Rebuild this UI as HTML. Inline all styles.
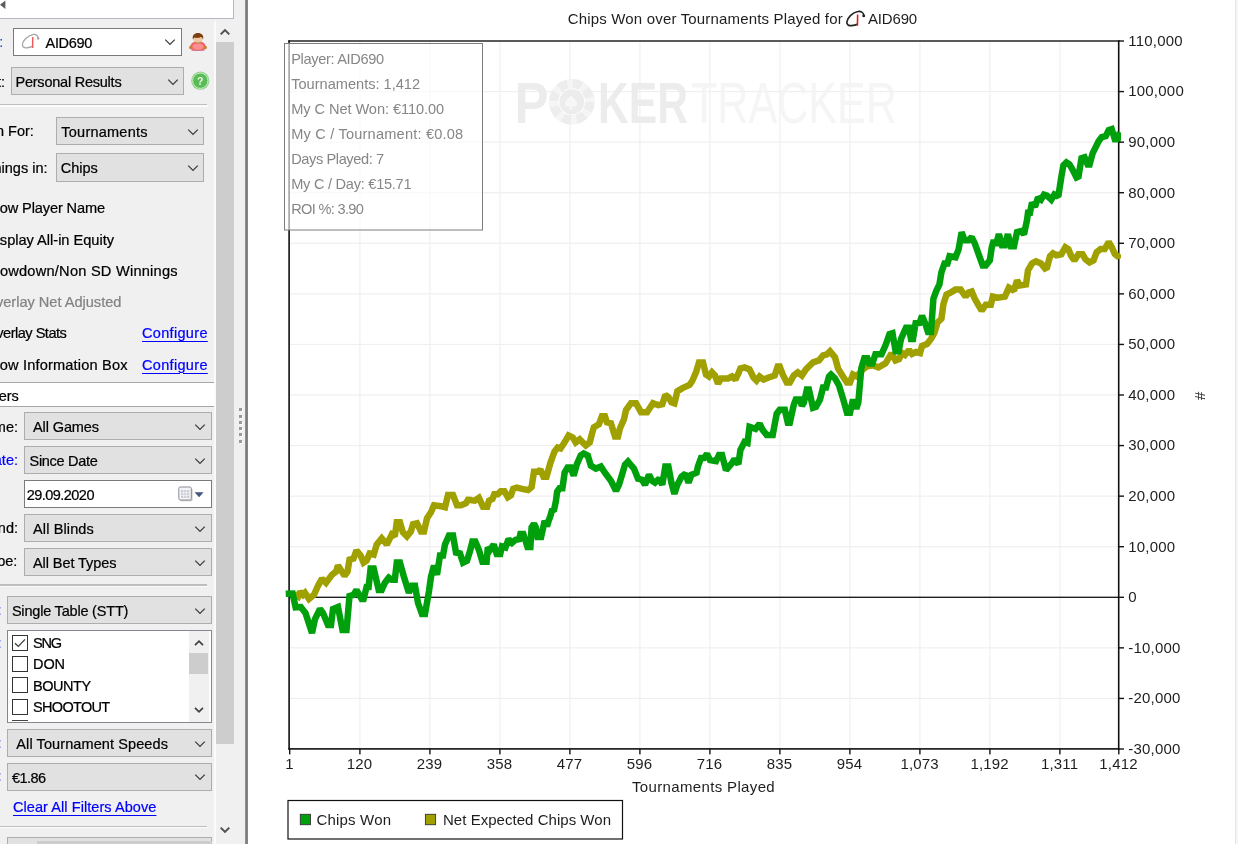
<!DOCTYPE html>
<html><head><meta charset="utf-8"><title>Chips Won over Tournaments Played</title>
<style>
html,body{margin:0;padding:0}
body{width:1238px;height:844px;overflow:hidden;position:relative;background:#fff;font-family:"Liberation Sans",sans-serif}
#panel{position:absolute;left:0;top:0;width:245px;height:844px;background:#f0f0f0;overflow:hidden}
#split{position:absolute;left:245px;top:0;width:3px;height:844px;background:linear-gradient(90deg,#9a9a9a,#7c7c7c 50%,#8c8c8c)}
.t{position:absolute;white-space:pre;-webkit-text-stroke:0.22px currentColor}
.a{position:absolute;overflow:visible}
.cb{position:absolute;background:#e1e1e1;border:1px solid #adadad}
.cb.w{background:#fff;border-color:#7a7a7a}
#chart{position:absolute;left:248px;top:0}
</style></head>
<body>
<div id="panel">
<div style="position:absolute;left:-3px;top:-3px;width:235.3px;height:20.4px;background:#fff;border:1.7px solid #b4b8c5"></div>
<svg class="a" style="left:0;top:0" width="8" height="12"><path d="M5.4 0.5 L0 4.8 L5.4 9 Z" fill="#5c5c5c"/></svg>
<div style="position:absolute;left:214px;top:21px;width:1.6px;height:823px;background:#fbfbfb"></div>
<div style="position:absolute;left:215.7px;top:41.8px;width:18.4px;height:702.2px;background:#cdcdcd"></div>
<svg class="a" style="left:217px;top:24px" width="16" height="16" viewBox="-8 -8 16 16"><path d="M-4.3 2.4 L0 -1.9 L4.3 2.4" fill="none" stroke="#505050" stroke-width="2"/></svg>
<svg class="a" style="left:217px;top:822px" width="16" height="16" viewBox="-8 -8 16 16"><path d="M-4.3 -2.4 L0 1.9 L4.3 -2.4" fill="none" stroke="#505050" stroke-width="2"/></svg>
<div class="t" style="right:241.70px;top:32.20px;height:20px;line-height:20px;font-size:14.5px;color:#2257c5;">Player:</div>
<div class="cb w" style="left:13.0px;top:28.0px;width:167.0px;height:25.5px"></div>
<div class="t" style="left:45.60px;top:32.65px;height:20px;line-height:20px;font-size:14.5px;color:#000;letter-spacing:-0.344px;">AID690</div>
<svg class="a" style="left:162px;top:34.25px" width="16" height="16" viewBox="-8 -8 16 16"><path d="M-4.75 -2.40 L0 2.40 L4.75 -2.40" fill="none" stroke="#3c3c3c" stroke-width="1.3"/></svg>
<svg class="a" style="left:21.7px;top:33.6px" width="20" height="16" viewBox="0 0 20 16"><path d="M16.3 4.2 C16 1.4 13.5 0 10.8 0.6 C5.5 1.6 0.8 6.5 0.4 10.4 C0.2 13 2.3 14 4.8 13.8 C6.8 13.6 8.8 13.2 10.2 12.4" fill="none" stroke="#a6a6a6" stroke-width="1.3"/><circle cx="16.2" cy="4.6" r="1.15" fill="#9a9a9a"/><path d="M10.8 3.1 L10.6 13.9" stroke="#f05a5a" stroke-width="1.45" fill="none"/></svg>
<svg class="a" style="left:187px;top:32px" width="22" height="22" viewBox="0 0 22 22"><path d="M2.8 16.6 C2.8 11.6 6.4 9.2 11 9.2 C15.6 9.2 19.2 11.6 19.2 16.6 C17 19.3 5 19.3 2.8 16.6 Z" fill="#f26466"/><ellipse cx="11" cy="14.6" rx="5.6" ry="3.4" fill="#fb8f90"/><path d="M4.6 18.3 H17.4" stroke="#c86a8a" stroke-width="0.9"/><circle cx="3.7" cy="15.4" r="1.7" fill="#c9822e"/><circle cx="18.3" cy="15.4" r="1.7" fill="#c9822e"/><ellipse cx="11" cy="6.4" rx="4.7" ry="4.6" fill="#efc9a2"/><path d="M6 7.6 C4.8 3 7.6 0.9 11 0.9 C14.4 0.9 17.2 3 16 7.6 C15.6 6 15 5.2 13.6 5 C12.6 6 8.6 6.2 7.4 5.4 C6.6 6 6.2 6.6 6 7.6 Z" fill="#7d3f12"/><path d="M8.2 10.2 C9.6 11.2 12.4 11.2 13.8 10.2" stroke="#b07040" stroke-width="0.7" fill="none"/></svg>
<div class="t" style="right:240.00px;top:71.50px;height:20px;line-height:20px;font-size:14.5px;color:#000;">Report:</div>
<div class="cb" style="left:10.5px;top:67.0px;width:171.5px;height:26.0px"></div>
<div class="t" style="left:15.50px;top:71.90px;height:20px;line-height:20px;font-size:14.5px;color:#000;letter-spacing:-0.232px;">Personal Results</div>
<svg class="a" style="left:164.5px;top:73.5px" width="16" height="16" viewBox="-8 -8 16 16"><path d="M-4.75 -2.40 L0 2.40 L4.75 -2.40" fill="none" stroke="#3c3c3c" stroke-width="1.3"/></svg>
<svg class="a" style="left:190px;top:71px" width="20" height="20" viewBox="0 0 20 20"><circle cx="10.3" cy="9.7" r="9.1" fill="#8ed08a"/><circle cx="10.3" cy="9.7" r="7.7" fill="#5bbb57" stroke="#d4efd0" stroke-width="0.9"/><text x="10.3" y="13.6" text-anchor="middle" font-family="Liberation Sans, sans-serif" font-weight="700" font-size="10.5" fill="#eaf7e6">?</text></svg>
<div style="position:absolute;left:0;top:105.4px;width:208px;height:1.2px;background:#fcfcfc"></div><div style="position:absolute;left:0;top:103.9px;width:207px;height:1.5px;background:#bebebe"></div>
<div class="t" style="right:211.20px;top:120.80px;height:20px;line-height:20px;font-size:14.5px;color:#000;">Graph For:</div>
<div class="cb" style="left:55.5px;top:117.0px;width:146.5px;height:26.0px"></div>
<div class="t" style="left:61.30px;top:121.90px;height:20px;line-height:20px;font-size:14.5px;color:#000;letter-spacing:0.234px;">Tournaments</div>
<svg class="a" style="left:184.5px;top:123.5px" width="16" height="16" viewBox="-8 -8 16 16"><path d="M-4.75 -2.40 L0 2.40 L4.75 -2.40" fill="none" stroke="#3c3c3c" stroke-width="1.3"/></svg>
<div class="t" style="right:197.50px;top:157.50px;height:20px;line-height:20px;font-size:14.5px;color:#000;">Winnings in:</div>
<div class="cb" style="left:55.5px;top:153.0px;width:146.5px;height:26.5px"></div>
<div class="t" style="left:60.80px;top:158.15px;height:20px;line-height:20px;font-size:14.5px;color:#000;letter-spacing:-0.054px;">Chips</div>
<svg class="a" style="left:184.5px;top:159.75px" width="16" height="16" viewBox="-8 -8 16 16"><path d="M-4.75 -2.40 L0 2.40 L4.75 -2.40" fill="none" stroke="#3c3c3c" stroke-width="1.3"/></svg>
<div class="t" style="right:140.00px;top:198.30px;height:20px;line-height:20px;font-size:14.6px;color:#000;letter-spacing:-0.129px;">Show Player Name</div>
<div class="t" style="right:131.00px;top:229.60px;height:20px;line-height:20px;font-size:14.6px;color:#000;letter-spacing:-0.012px;">Display All-in Equity</div>
<div class="t" style="right:67.20px;top:260.60px;height:20px;line-height:20px;font-size:14.6px;color:#000;letter-spacing:0.234px;">Showdown/Non SD Winnings</div>
<div class="t" style="right:123.60px;top:291.90px;height:20px;line-height:20px;font-size:14.6px;color:#838383;letter-spacing:-0.016px;">Overlay Net Adjusted</div>
<div class="t" style="right:178.70px;top:323.20px;height:20px;line-height:20px;font-size:14.6px;color:#000;letter-spacing:-0.516px;">Overlay Stats</div>
<div class="t" style="left:142.00px;top:323.20px;height:20px;line-height:20px;font-size:14.5px;color:#0000ff;text-decoration:underline;text-underline-offset:2.8px;text-decoration-thickness:1.1px;letter-spacing:0.325px;">Configure</div>
<div class="t" style="right:117.30px;top:354.50px;height:20px;line-height:20px;font-size:14.6px;color:#000;letter-spacing:0.168px;">Show Information Box</div>
<div class="t" style="left:142.00px;top:354.50px;height:20px;line-height:20px;font-size:14.5px;color:#0000ff;text-decoration:underline;text-underline-offset:2.8px;text-decoration-thickness:1.1px;letter-spacing:0.325px;">Configure</div>
<div style="position:absolute;left:-2px;top:382px;width:216px;height:22.5px;background:#fff;border-top:1px solid #a6a6a8;border-bottom:1px solid #a6a6a8"></div>
<div class="t" style="right:226.20px;top:386.30px;height:20px;line-height:20px;font-size:14.5px;color:#000;">Filters</div>
<div class="t" style="right:227.00px;top:416.50px;height:20px;line-height:20px;font-size:14.5px;color:#000;">Game:</div>
<div class="cb" style="left:24.0px;top:412.0px;width:186.0px;height:26.0px"></div>
<div class="t" style="left:33.00px;top:416.90px;height:20px;line-height:20px;font-size:14.5px;color:#000;letter-spacing:-0.109px;">All Games</div>
<svg class="a" style="left:192px;top:418.5px" width="16" height="16" viewBox="-8 -8 16 16"><path d="M-4.75 -2.40 L0 2.40 L4.75 -2.40" fill="none" stroke="#3c3c3c" stroke-width="1.3"/></svg>
<div class="t" style="right:227.00px;top:450.30px;height:20px;line-height:20px;font-size:14.5px;color:#0000ff;">Date:</div>
<div class="cb" style="left:24.0px;top:446.0px;width:186.0px;height:26.0px"></div>
<div class="t" style="left:29.50px;top:450.90px;height:20px;line-height:20px;font-size:14.5px;color:#000;letter-spacing:-0.283px;">Since Date</div>
<svg class="a" style="left:192px;top:452.5px" width="16" height="16" viewBox="-8 -8 16 16"><path d="M-4.75 -2.40 L0 2.40 L4.75 -2.40" fill="none" stroke="#3c3c3c" stroke-width="1.3"/></svg>
<div class="cb w" style="left:24.0px;top:480.0px;width:186.0px;height:26.0px"></div>
<div class="t" style="left:26.80px;top:484.90px;height:20px;line-height:20px;font-size:14.5px;color:#000;letter-spacing:-0.547px;">29.09.2020</div>
<svg class="a" style="left:177.8px;top:486px" width="27" height="17" viewBox="0 0 27 17"><rect x="2" y="2.2" width="12.5" height="13" rx="1.5" fill="#c8c4c0"/><rect x="0.8" y="1" width="12.5" height="13" rx="1.5" fill="#f4f4f6" stroke="#8c8c96" stroke-width="1"/><rect x="3" y="4" width="8.2" height="8" fill="#c9ccd8"/><path d="M3 6.7H11.2M3 9.4H11.2M5.7 4V12M8.4 4V12" stroke="#f4f4f6" stroke-width="0.8"/><path d="M16.6 6.2 H25.6 L21.1 11.2 Z" fill="#43567e"/></svg>
<div class="t" style="right:227.00px;top:517.50px;height:20px;line-height:20px;font-size:14.5px;color:#000;">Blind:</div>
<div class="cb" style="left:24.0px;top:514.0px;width:186.0px;height:26.0px"></div>
<div class="t" style="left:33.00px;top:518.90px;height:20px;line-height:20px;font-size:14.5px;color:#000;letter-spacing:0.126px;">All Blinds</div>
<svg class="a" style="left:192px;top:520.5px" width="16" height="16" viewBox="-8 -8 16 16"><path d="M-4.75 -2.40 L0 2.40 L4.75 -2.40" fill="none" stroke="#3c3c3c" stroke-width="1.3"/></svg>
<div class="t" style="right:227.70px;top:551.30px;height:20px;line-height:20px;font-size:14.5px;color:#000;">Type:</div>
<div class="cb" style="left:24.0px;top:548.0px;width:186.0px;height:26.0px"></div>
<div class="t" style="left:33.00px;top:552.90px;height:20px;line-height:20px;font-size:14.5px;color:#000;letter-spacing:-0.074px;">All Bet Types</div>
<svg class="a" style="left:192px;top:554.5px" width="16" height="16" viewBox="-8 -8 16 16"><path d="M-4.75 -2.40 L0 2.40 L4.75 -2.40" fill="none" stroke="#3c3c3c" stroke-width="1.3"/></svg>
<div style="position:absolute;left:0;top:585.9px;width:207.5px;height:1.2px;background:#fcfcfc"></div><div style="position:absolute;left:0;top:584.4px;width:206.5px;height:1.5px;background:#bebebe"></div>
<div class="t" style="right:243.40px;top:600.00px;height:20px;line-height:20px;font-size:14.5px;color:#2a3cff;">Type:</div>
<div class="cb" style="left:7.0px;top:596.0px;width:203.0px;height:26.0px"></div>
<div class="t" style="left:11.90px;top:600.90px;height:20px;line-height:20px;font-size:14.5px;color:#000;letter-spacing:-0.195px;">Single Table (STT)</div>
<svg class="a" style="left:192px;top:602.5px" width="16" height="16" viewBox="-8 -8 16 16"><path d="M-4.75 -2.40 L0 2.40 L4.75 -2.40" fill="none" stroke="#3c3c3c" stroke-width="1.3"/></svg>
<div class="t" style="right:243.40px;top:632.50px;height:20px;line-height:20px;font-size:14.5px;color:#2a3cff;">Flags:</div>
<div style="position:absolute;left:7px;top:630px;width:203px;height:91px;background:#fff;border:1px solid #828790;overflow:hidden"></div>
<div style="position:absolute;left:12px;top:634.6px;width:14px;height:14px;background:#fff;border:1px solid #333"></div>
<svg class="a" style="left:12px;top:634.6px" width="16" height="16"><path d="M3 8.2 L6.3 11.4 L13 4.4" fill="none" stroke="#3a3a3a" stroke-width="1.3"/></svg>
<div class="t" style="left:33.00px;top:632.90px;height:20px;line-height:20px;font-size:14.5px;color:#000;letter-spacing:-1.141px;">SNG</div>
<div style="position:absolute;left:12px;top:656.0px;width:14px;height:14px;background:#fff;border:1px solid #333"></div>
<div class="t" style="left:33.00px;top:654.25px;height:20px;line-height:20px;font-size:14.5px;color:#000;letter-spacing:-0.074px;">DON</div>
<div style="position:absolute;left:12px;top:677.3px;width:14px;height:14px;background:#fff;border:1px solid #333"></div>
<div class="t" style="left:33.00px;top:675.60px;height:20px;line-height:20px;font-size:14.5px;color:#000;letter-spacing:-0.454px;">BOUNTY</div>
<div style="position:absolute;left:12px;top:698.7px;width:14px;height:14px;background:#fff;border:1px solid #333"></div>
<div class="t" style="left:33.00px;top:696.95px;height:20px;line-height:20px;font-size:14.5px;color:#000;letter-spacing:-0.675px;">SHOOTOUT</div>
<div style="position:absolute;left:12px;top:720px;width:16px;height:1.2px;background:#444;border:0"></div>
<div style="position:absolute;left:189px;top:631px;width:20.4px;height:91px;background:#f0f0f0"></div>
<div style="position:absolute;left:189.3px;top:653.2px;width:19px;height:21px;background:#cdcdcd"></div>
<svg class="a" style="left:191px;top:635px" width="16" height="16" viewBox="-8 -8 16 16"><path d="M-4 2.2 L0 -1.8 L4 2.2" fill="none" stroke="#404040" stroke-width="1.7"/></svg>
<svg class="a" style="left:191px;top:702px" width="16" height="16" viewBox="-8 -8 16 16"><path d="M-4 -2.2 L0 1.8 L4 -2.2" fill="none" stroke="#404040" stroke-width="1.7"/></svg>
<div class="t" style="right:243.40px;top:733.00px;height:20px;line-height:20px;font-size:14.5px;color:#2a3cff;">Speed:</div>
<div class="cb" style="left:7.0px;top:729.0px;width:203.0px;height:26.0px"></div>
<div class="t" style="left:16.30px;top:733.90px;height:20px;line-height:20px;font-size:14.5px;color:#000;letter-spacing:0.097px;">All Tournament Speeds</div>
<svg class="a" style="left:192px;top:735.5px" width="16" height="16" viewBox="-8 -8 16 16"><path d="M-4.75 -2.40 L0 2.40 L4.75 -2.40" fill="none" stroke="#3c3c3c" stroke-width="1.3"/></svg>
<div class="t" style="right:243.40px;top:766.20px;height:20px;line-height:20px;font-size:14.5px;color:#2a3cff;">Buy-in:</div>
<div class="cb" style="left:7.0px;top:763.0px;width:203.0px;height:25.5px"></div>
<div class="t" style="left:11.90px;top:767.65px;height:20px;line-height:20px;font-size:14.5px;color:#000;letter-spacing:-0.557px;">€1.86</div>
<svg class="a" style="left:192px;top:769.25px" width="16" height="16" viewBox="-8 -8 16 16"><path d="M-4.75 -2.40 L0 2.40 L4.75 -2.40" fill="none" stroke="#3c3c3c" stroke-width="1.3"/></svg>
<div class="t" style="left:13.00px;top:796.60px;height:20px;line-height:20px;font-size:14.5px;color:#0000ff;text-decoration:underline;text-underline-offset:2.8px;text-decoration-thickness:1.1px;letter-spacing:0.068px;">Clear All Filters Above</div>
<div style="position:absolute;left:0;top:827.1px;width:207.5px;height:1.2px;background:#fcfcfc"></div><div style="position:absolute;left:0;top:825.6px;width:206.5px;height:1.5px;background:#bebebe"></div>
<div class="cb" style="left:7px;top:837px;width:203px;height:20px"></div>
<div style="position:absolute;left:37px;top:841px;width:175px;height:3px;background:#cdcdcd"></div>
<div style="position:absolute;left:239px;top:408.30px;width:3px;height:3px;background:#9a9a9a;box-shadow:1px 1px 0 #fff"></div>
<div style="position:absolute;left:239px;top:414.55px;width:3px;height:3px;background:#9a9a9a;box-shadow:1px 1px 0 #fff"></div>
<div style="position:absolute;left:239px;top:420.80px;width:3px;height:3px;background:#9a9a9a;box-shadow:1px 1px 0 #fff"></div>
<div style="position:absolute;left:239px;top:427.05px;width:3px;height:3px;background:#9a9a9a;box-shadow:1px 1px 0 #fff"></div>
<div style="position:absolute;left:239px;top:433.30px;width:3px;height:3px;background:#9a9a9a;box-shadow:1px 1px 0 #fff"></div>
<div style="position:absolute;left:239px;top:439.55px;width:3px;height:3px;background:#9a9a9a;box-shadow:1px 1px 0 #fff"></div>
</div>
<div id="split"></div>
<svg id="chart" width="990" height="844" viewBox="248 0 990 844">
<rect x="248" y="0" width="990" height="844" fill="#ffffff"/>
<rect x="359.3" y="41.0" width="1.2" height="708.0" fill="#efefef"/>
<rect x="429.3" y="41.0" width="1.2" height="708.0" fill="#efefef"/>
<rect x="499.3" y="41.0" width="1.2" height="708.0" fill="#efefef"/>
<rect x="569.3" y="41.0" width="1.2" height="708.0" fill="#efefef"/>
<rect x="639.3" y="41.0" width="1.2" height="708.0" fill="#efefef"/>
<rect x="709.3" y="41.0" width="1.2" height="708.0" fill="#efefef"/>
<rect x="779.3" y="41.0" width="1.2" height="708.0" fill="#efefef"/>
<rect x="849.3" y="41.0" width="1.2" height="708.0" fill="#efefef"/>
<rect x="919.3" y="41.0" width="1.2" height="708.0" fill="#efefef"/>
<rect x="989.3" y="41.0" width="1.2" height="708.0" fill="#efefef"/>
<rect x="1059.3" y="41.0" width="1.2" height="708.0" fill="#efefef"/>
<rect x="289.0" y="90.97" width="829.8" height="1.2" fill="#efefef"/>
<rect x="289.0" y="141.54" width="829.8" height="1.2" fill="#efefef"/>
<rect x="289.0" y="192.11" width="829.8" height="1.2" fill="#efefef"/>
<rect x="289.0" y="242.69" width="829.8" height="1.2" fill="#efefef"/>
<rect x="289.0" y="293.26" width="829.8" height="1.2" fill="#efefef"/>
<rect x="289.0" y="343.83" width="829.8" height="1.2" fill="#efefef"/>
<rect x="289.0" y="394.40" width="829.8" height="1.2" fill="#efefef"/>
<rect x="289.0" y="444.97" width="829.8" height="1.2" fill="#efefef"/>
<rect x="289.0" y="495.54" width="829.8" height="1.2" fill="#efefef"/>
<rect x="289.0" y="546.11" width="829.8" height="1.2" fill="#efefef"/>
<rect x="289.0" y="647.26" width="829.8" height="1.2" fill="#efefef"/>
<rect x="289.0" y="697.83" width="829.8" height="1.2" fill="#efefef"/>
<g opacity="0.9"><text x="514.5" y="123" font-family="Liberation Sans, sans-serif" font-weight="700" font-size="57" fill="#ebebeb" textLength="34" lengthAdjust="spacingAndGlyphs">P</text><circle cx="571.8" cy="101.8" r="18.2" fill="none" stroke="#ececec" stroke-width="9.5" stroke-dasharray="9.5 4.8"/><circle cx="571.8" cy="101.8" r="18.2" fill="none" stroke="#f5f5f5" stroke-width="9.5" stroke-dasharray="4.8 9.5" stroke-dashoffset="4.8"/><circle cx="571.8" cy="101.8" r="12.6" fill="#ebebeb"/><path d="M571 95.5 C575 99.5 577 101.5 577 104 C577 106.6 573.6 107.4 571.8 105.6 L573 109.5 H569 L570.2 105.6 C568.4 107.4 565 106.6 565 104 C565 101.5 567 99.5 571 95.5 Z" fill="#f7f7f7"/><text x="598" y="123" font-family="Liberation Sans, sans-serif" font-weight="700" font-size="57" fill="#ebebeb" textLength="90" lengthAdjust="spacingAndGlyphs">KER</text><text x="691" y="123" font-family="Liberation Sans, sans-serif" font-size="57" fill="#f4f4f4" textLength="206" lengthAdjust="spacingAndGlyphs">TRACKER</text></g>
<rect x="289.0" y="596.64" width="829.8" height="1.3" fill="#111"/>
<rect x="288.3" y="40.3" width="1.6" height="709.4" fill="#101010"/>
<rect x="1117.9" y="40.3" width="1.6" height="709.4" fill="#101010"/>
<rect x="288.3" y="40.3" width="831.2" height="1.4" fill="#141414"/>
<rect x="288.3" y="748.1" width="831.2" height="1.6" fill="#101010"/>
<clipPath id="pc"><rect x="285" y="42" width="835.9" height="706"/></clipPath>
<polyline clip-path="url(#pc)" points="293.0,594.5 298.0,596.8 300.0,591.8 303.0,594.8 305.0,592.8 309.0,598.9 314.0,594.8 318.0,585.8 322.0,578.7 326.0,582.7 332.0,574.7 336.0,571.7 338.0,565.6 344.5,575.7 347.5,571.7 349.5,559.6 353.5,558.6 356.5,550.5 360.6,555.5 363.6,562.6 366.6,560.6 369.6,553.5 373.7,554.5 376.7,544.5 381.7,538.4 386.8,544.5 391.8,534.4 394.8,536.4 396.8,522.3 399.9,522.3 402.9,532.4 406.9,536.4 410.9,531.4 413.0,524.3 417.0,523.3 421.0,531.4 424.0,531.4 427.0,518.3 431.0,512.2 434.0,505.2 441.0,506.2 445.0,507.2 448.0,495.1 453.0,495.1 457.0,505.2 461.0,505.2 466.0,503.2 469.0,498.1 470.0,500.1 474.7,500.7 478.9,497.8 483.0,506.7 487.2,506.7 489.0,500.7 492.5,499.0 494.3,494.2 497.8,494.2 500.8,491.3 504.4,491.3 507.9,497.2 510.9,495.4 513.2,488.9 516.8,487.7 522.1,488.9 528.1,490.1 531.6,487.1 534.0,471.7 538.0,471.7 540.4,469.6 543.5,476.7 546.5,476.7 550.5,462.6 554.5,451.5 557.6,447.5 560.6,448.5 564.6,442.4 568.6,435.4 572.7,437.4 575.7,442.4 579.7,439.4 585.8,445.5 589.8,442.4 591.8,434.4 593.8,427.3 598.9,424.3 601.9,416.3 604.9,416.3 606.9,422.3 610.9,423.3 615.0,436.4 618.0,436.4 620.0,428.3 624.0,419.3 626.0,410.2 631.0,403.2 636.0,403.2 641.0,412.2 647.0,412.2 653.0,403.2 658.3,405.2 662.3,404.2 665.3,395.1 668.4,397.1 671.4,402.2 674.4,403.2 677.4,391.1 682.5,388.1 689.5,385.0 692.0,381.5 696.0,372.4 699.0,362.4 703.0,362.4 706.0,374.5 709.0,376.5 712.0,372.4 715.0,375.5 718.0,383.5 721.0,378.5 728.0,378.5 732.0,376.5 735.4,379.5 738.4,373.5 740.4,368.4 744.5,367.4 749.5,369.4 753.5,377.5 756.5,380.5 759.6,376.5 763.6,379.5 768.6,377.5 774.7,375.5 777.7,366.4 779.7,366.4 782.7,374.5 786.8,382.5 789.8,382.5 793.8,375.5 797.8,372.4 801.9,375.5 805.9,369.4 813.0,362.4 819.0,360.4 823.0,355.3 827.0,354.3 830.0,351.3 835.0,357.3 838.0,368.4 843.0,376.5 847.0,382.5 850.0,382.5 853.0,374.5 857.0,376.5 862.0,370.0 867.0,366.4 873.4,365.4 878.4,367.4 885.5,363.4 891.5,353.3 895.5,360.4 899.0,359.1 902.0,353.0 905.0,355.0 909.0,350.0 912.0,354.0 916.0,352.0 920.0,353.0 922.0,346.0 927.0,344.0 931.0,338.9 934.4,332.9 937.4,322.8 941.4,318.8 943.5,303.7 946.5,294.6 950.5,292.6 955.5,289.6 960.6,289.6 965.6,296.6 968.6,292.6 971.7,291.6 974.7,298.6 978.7,305.7 981.7,310.7 985.8,304.7 990.8,304.7 992.8,296.6 997.8,297.6 1004.9,296.6 1008.9,287.6 1014.0,290.6 1017.0,280.5 1020.0,285.5 1026.0,284.5 1028.0,270.4 1032.0,263.4 1036.0,261.4 1041.0,263.4 1045.0,268.4 1047.0,267.4 1050.0,256.3 1053.0,253.3 1056.3,255.3 1061.3,254.3 1065.3,247.3 1068.4,249.3 1071.4,256.3 1074.4,260.4 1078.4,254.3 1082.5,254.3 1085.5,259.4 1089.5,262.4 1093.5,260.4 1096.6,252.3 1100.7,249.0 1104.7,249.0 1108.7,242.0 1111.7,247.0 1114.8,254.0 1118.8,257.1 1119.8,254.0" fill="none" stroke="#a0a000" stroke-width="6.5" stroke-linejoin="miter" stroke-miterlimit="1.6" stroke-linecap="butt"/>
<polyline clip-path="url(#pc)" points="285.7,593.7 292.6,593.5 295.6,607.3 300.8,607.0 305.5,613.0 312.0,633.0 315.0,619.0 320.0,609.0 323.0,613.0 328.0,625.0 331.0,625.0 333.0,609.0 338.0,607.0 342.5,630.0 346.5,630.0 349.5,596.0 353.5,595.0 356.5,590.0 361.6,599.0 363.6,599.0 366.6,587.0 368.6,587.0 370.6,568.6 373.7,568.6 378.7,590.0 381.7,590.0 384.8,583.0 388.8,577.7 391.8,579.7 394.8,579.7 396.8,562.6 399.9,562.6 403.9,576.7 408.9,592.8 412.0,585.8 415.0,585.8 418.0,603.0 422.0,614.0 425.0,614.0 429.0,591.0 431.0,576.7 434.0,565.6 437.0,574.7 440.0,555.5 443.0,555.5 445.0,544.5 449.0,535.4 453.0,535.4 456.0,552.5 460.0,553.5 463.0,562.6 467.0,560.6 470.0,551.0 472.4,541.6 475.3,541.6 478.9,549.9 482.4,561.8 486.6,561.8 487.8,547.5 490.1,549.9 493.7,544.6 496.7,554.0 500.2,554.0 502.0,546.4 505.5,547.5 508.5,539.2 512.0,542.8 515.6,539.8 519.2,539.2 520.4,533.9 523.3,533.9 525.1,539.2 527.5,546.9 530.4,546.9 531.6,527.4 534.0,523.8 535.8,527.4 537.5,536.9 541.1,536.9 543.5,526.2 544.6,520.9 547.0,526.2 548.8,520.3 550.6,515.5 551.8,510.8 554.1,509.6 555.9,501.3 557.1,491.8 559.5,488.3 562.4,488.3 563.6,480.0 564.6,472.7 567.6,467.6 570.7,467.6 573.7,475.7 576.7,464.6 580.7,455.5 583.7,453.5 587.8,455.5 590.8,465.6 595.8,468.6 600.9,466.6 604.9,472.7 610.9,480.7 616.0,490.8 619.0,484.8 622.0,474.7 625.0,464.6 628.0,461.6 634.0,468.6 638.0,478.7 642.0,479.7 645.0,484.8 649.0,474.7 652.0,480.7 655.0,482.7 659.3,478.7 662.3,484.8 665.3,466.6 668.4,466.6 671.4,482.7 674.4,493.8 677.4,484.8 681.5,476.7 685.5,473.7 688.5,482.7 691.5,474.7 696.6,472.7 698.0,466.1 701.0,458.1 704.0,458.1 707.0,454.0 710.0,460.1 716.0,461.1 719.0,455.0 722.0,455.0 726.0,470.2 732.0,463.1 734.4,459.1 738.4,464.1 740.4,450.0 744.5,442.0 747.5,443.0 749.5,426.8 755.5,428.9 759.6,423.8 762.6,429.9 766.6,434.9 772.7,434.9 776.7,413.7 779.7,409.7 784.8,409.7 787.8,422.8 789.8,422.8 793.8,404.7 795.8,399.6 799.9,399.6 801.9,405.7 803.9,402.7 806.9,389.6 808.9,389.6 813.0,407.7 816.0,406.7 820.0,399.6 823.0,387.6 826.0,387.6 829.0,376.5 831.0,374.5 835.0,378.5 839.0,385.5 843.0,398.6 847.0,412.7 850.0,412.7 853.0,399.6 856.3,408.7 858.3,402.7 861.3,368.4 864.3,358.3 867.4,358.3 869.4,363.4 872.4,363.4 875.4,354.3 881.5,354.3 885.5,345.3 889.5,334.2 892.5,333.2 895.6,351.3 898.6,351.3 901.0,338.9 906.0,327.8 909.0,327.8 911.0,338.9 913.0,338.9 916.0,320.8 919.0,324.8 922.0,315.8 925.0,322.8 928.0,331.9 931.0,331.9 933.4,298.6 936.4,290.6 939.4,284.5 941.4,272.4 944.5,263.4 947.5,263.4 949.5,256.3 955.5,257.3 958.6,249.3 961.6,232.2 964.6,240.2 968.6,240.2 971.7,237.2 974.7,243.2 978.7,254.3 982.7,265.4 985.8,265.4 989.8,260.4 991.8,247.3 993.8,240.2 995.8,245.3 998.9,234.2 1001.9,245.3 1004.9,245.3 1007.9,234.2 1010.9,246.3 1014.0,246.3 1017.0,232.2 1021.0,231.2 1024.0,234.2 1027.0,220.1 1028.0,212.7 1030.0,212.7 1032.0,202.7 1035.0,206.7 1038.0,197.6 1041.0,199.6 1044.0,194.6 1047.0,195.6 1051.3,199.6 1054.3,194.6 1058.3,196.6 1061.4,176.5 1063.4,165.4 1066.4,162.4 1069.4,164.4 1072.4,169.4 1076.5,177.5 1078.5,176.5 1081.5,158.3 1084.5,157.3 1087.6,164.4 1089.6,164.4 1092.6,153.3 1098.6,141.2 1101.7,137.2 1105.7,136.2 1108.7,130.1 1111.7,129.1 1114.8,139.2 1117.8,139.2 1119.8,132.2" fill="none" stroke="#00a00c" stroke-width="6.5" stroke-linejoin="miter" stroke-miterlimit="1.6" stroke-linecap="butt"/>
<rect x="284.5" y="43.5" width="198" height="186.5" fill="#ffffff" fill-opacity="0.62" stroke="#7d7d7d" stroke-width="1"/>
<text x="291.2" y="64.2" font-family="Liberation Sans, sans-serif" font-size="14.6" fill="#868686" textLength="92.9" lengthAdjust="spacing">Player: AID690</text>
<text x="291.2" y="89.2" font-family="Liberation Sans, sans-serif" font-size="14.6" fill="#868686" textLength="128.9" lengthAdjust="spacing">Tournaments: 1,412</text>
<text x="291.2" y="114.2" font-family="Liberation Sans, sans-serif" font-size="14.6" fill="#868686" textLength="153.0" lengthAdjust="spacing">My C Net Won: €110.00</text>
<text x="291.2" y="139.2" font-family="Liberation Sans, sans-serif" font-size="14.6" fill="#868686" textLength="172.0" lengthAdjust="spacing">My C / Tournament: €0.08</text>
<text x="291.2" y="164.2" font-family="Liberation Sans, sans-serif" font-size="14.6" fill="#868686" textLength="92.9" lengthAdjust="spacing">Days Played: 7</text>
<text x="291.2" y="189.2" font-family="Liberation Sans, sans-serif" font-size="14.6" fill="#868686" textLength="120.4" lengthAdjust="spacing">My C / Day: €15.71</text>
<text x="291.2" y="214.2" font-family="Liberation Sans, sans-serif" font-size="14.6" fill="#868686" textLength="72.6" lengthAdjust="spacing">ROI %: 3.90</text>
<rect x="289.0" y="749.0" width="1.4" height="5.4" fill="#141414"/>
<text x="289.4" y="768.9" text-anchor="middle" font-family="Liberation Sans, sans-serif" font-size="15" fill="#1e1e1e" letter-spacing="0.15">1</text>
<rect x="359.2" y="749.0" width="1.4" height="5.4" fill="#141414"/>
<text x="359.6" y="768.9" text-anchor="middle" font-family="Liberation Sans, sans-serif" font-size="15" fill="#1e1e1e" letter-spacing="0.15">120</text>
<rect x="429.2" y="749.0" width="1.4" height="5.4" fill="#141414"/>
<text x="429.6" y="768.9" text-anchor="middle" font-family="Liberation Sans, sans-serif" font-size="15" fill="#1e1e1e" letter-spacing="0.15">239</text>
<rect x="499.2" y="749.0" width="1.4" height="5.4" fill="#141414"/>
<text x="499.6" y="768.9" text-anchor="middle" font-family="Liberation Sans, sans-serif" font-size="15" fill="#1e1e1e" letter-spacing="0.15">358</text>
<rect x="569.2" y="749.0" width="1.4" height="5.4" fill="#141414"/>
<text x="569.6" y="768.9" text-anchor="middle" font-family="Liberation Sans, sans-serif" font-size="15" fill="#1e1e1e" letter-spacing="0.15">477</text>
<rect x="639.2" y="749.0" width="1.4" height="5.4" fill="#141414"/>
<text x="639.6" y="768.9" text-anchor="middle" font-family="Liberation Sans, sans-serif" font-size="15" fill="#1e1e1e" letter-spacing="0.15">596</text>
<rect x="709.2" y="749.0" width="1.4" height="5.4" fill="#141414"/>
<text x="709.6" y="768.9" text-anchor="middle" font-family="Liberation Sans, sans-serif" font-size="15" fill="#1e1e1e" letter-spacing="0.15">716</text>
<rect x="779.2" y="749.0" width="1.4" height="5.4" fill="#141414"/>
<text x="779.6" y="768.9" text-anchor="middle" font-family="Liberation Sans, sans-serif" font-size="15" fill="#1e1e1e" letter-spacing="0.15">835</text>
<rect x="849.2" y="749.0" width="1.4" height="5.4" fill="#141414"/>
<text x="849.6" y="768.9" text-anchor="middle" font-family="Liberation Sans, sans-serif" font-size="15" fill="#1e1e1e" letter-spacing="0.15">954</text>
<rect x="919.2" y="749.0" width="1.4" height="5.4" fill="#141414"/>
<text x="919.6" y="768.9" text-anchor="middle" font-family="Liberation Sans, sans-serif" font-size="15" fill="#1e1e1e" letter-spacing="0.15">1,073</text>
<rect x="989.2" y="749.0" width="1.4" height="5.4" fill="#141414"/>
<text x="989.6" y="768.9" text-anchor="middle" font-family="Liberation Sans, sans-serif" font-size="15" fill="#1e1e1e" letter-spacing="0.15">1,192</text>
<rect x="1059.2" y="749.0" width="1.4" height="5.4" fill="#141414"/>
<text x="1059.6" y="768.9" text-anchor="middle" font-family="Liberation Sans, sans-serif" font-size="15" fill="#1e1e1e" letter-spacing="0.15">1,311</text>
<rect x="1118.1" y="749.0" width="1.4" height="5.4" fill="#141414"/>
<text x="1118.5" y="768.9" text-anchor="middle" font-family="Liberation Sans, sans-serif" font-size="15" fill="#1e1e1e" letter-spacing="0.15">1,412</text>
<rect x="1118.8" y="40.30" width="5.2" height="1.4" fill="#141414"/>
<text x="1128.2" y="45.90" font-family="Liberation Sans, sans-serif" font-size="15" fill="#1e1e1e" letter-spacing="0.22">110,000</text>
<rect x="1118.8" y="90.87" width="5.2" height="1.4" fill="#141414"/>
<text x="1128.2" y="96.47" font-family="Liberation Sans, sans-serif" font-size="15" fill="#1e1e1e" letter-spacing="0.22">100,000</text>
<rect x="1118.8" y="141.44" width="5.2" height="1.4" fill="#141414"/>
<text x="1128.2" y="147.04" font-family="Liberation Sans, sans-serif" font-size="15" fill="#1e1e1e" letter-spacing="0.22">90,000</text>
<rect x="1118.8" y="192.01" width="5.2" height="1.4" fill="#141414"/>
<text x="1128.2" y="197.61" font-family="Liberation Sans, sans-serif" font-size="15" fill="#1e1e1e" letter-spacing="0.22">80,000</text>
<rect x="1118.8" y="242.59" width="5.2" height="1.4" fill="#141414"/>
<text x="1128.2" y="248.19" font-family="Liberation Sans, sans-serif" font-size="15" fill="#1e1e1e" letter-spacing="0.22">70,000</text>
<rect x="1118.8" y="293.16" width="5.2" height="1.4" fill="#141414"/>
<text x="1128.2" y="298.76" font-family="Liberation Sans, sans-serif" font-size="15" fill="#1e1e1e" letter-spacing="0.22">60,000</text>
<rect x="1118.8" y="343.73" width="5.2" height="1.4" fill="#141414"/>
<text x="1128.2" y="349.33" font-family="Liberation Sans, sans-serif" font-size="15" fill="#1e1e1e" letter-spacing="0.22">50,000</text>
<rect x="1118.8" y="394.30" width="5.2" height="1.4" fill="#141414"/>
<text x="1128.2" y="399.90" font-family="Liberation Sans, sans-serif" font-size="15" fill="#1e1e1e" letter-spacing="0.22">40,000</text>
<rect x="1118.8" y="444.87" width="5.2" height="1.4" fill="#141414"/>
<text x="1128.2" y="450.47" font-family="Liberation Sans, sans-serif" font-size="15" fill="#1e1e1e" letter-spacing="0.22">30,000</text>
<rect x="1118.8" y="495.44" width="5.2" height="1.4" fill="#141414"/>
<text x="1128.2" y="501.04" font-family="Liberation Sans, sans-serif" font-size="15" fill="#1e1e1e" letter-spacing="0.22">20,000</text>
<rect x="1118.8" y="546.01" width="5.2" height="1.4" fill="#141414"/>
<text x="1128.2" y="551.61" font-family="Liberation Sans, sans-serif" font-size="15" fill="#1e1e1e" letter-spacing="0.22">10,000</text>
<rect x="1118.8" y="596.59" width="5.2" height="1.4" fill="#141414"/>
<text x="1128.2" y="602.19" font-family="Liberation Sans, sans-serif" font-size="15" fill="#1e1e1e" letter-spacing="0.22">0</text>
<rect x="1118.8" y="647.16" width="5.2" height="1.4" fill="#141414"/>
<text x="1128.2" y="652.76" font-family="Liberation Sans, sans-serif" font-size="15" fill="#1e1e1e" letter-spacing="0.22">-10,000</text>
<rect x="1118.8" y="697.73" width="5.2" height="1.4" fill="#141414"/>
<text x="1128.2" y="703.33" font-family="Liberation Sans, sans-serif" font-size="15" fill="#1e1e1e" letter-spacing="0.22">-20,000</text>
<rect x="1118.8" y="748.30" width="5.2" height="1.4" fill="#141414"/>
<text x="1128.2" y="753.90" font-family="Liberation Sans, sans-serif" font-size="15" fill="#1e1e1e" letter-spacing="0.22">-30,000</text>
<text x="703.5" y="792.3" text-anchor="middle" font-family="Liberation Sans, sans-serif" font-size="15" fill="#1e1e1e" letter-spacing="0.35">Tournaments Played</text>
<text transform="translate(1195.2,396) rotate(90)" text-anchor="middle" font-family="Liberation Sans, sans-serif" font-size="15" fill="#1e1e1e" font-size="13">#</text>
<text x="567.7" y="24" font-family="Liberation Sans, sans-serif" font-size="15" fill="#1e1e1e" textLength="275" lengthAdjust="spacing">Chips Won over Tournaments Played for</text>
<g transform="translate(846.4,10.9) scale(1.07)"><path d="M16.3 4.2 C16 1.4 13.5 0 10.8 0.6 C5.5 1.6 0.8 6.5 0.4 10.4 C0.2 13 2.3 14 4.8 13.8 C6.8 13.6 8.8 13.2 10.2 12.4" fill="none" stroke="#222" stroke-width="1.55"/><circle cx="16.2" cy="4.7" r="1.35" fill="#222"/><path d="M10.5 3.4 L10.3 13.9" stroke="#e01818" stroke-width="1.45" fill="none"/></g>
<text x="868" y="24" font-family="Liberation Sans, sans-serif" font-size="15" fill="#1e1e1e" textLength="49.2" lengthAdjust="spacing">AID690</text>
<rect x="288" y="800.5" width="334.5" height="38.5" fill="#fff" stroke="#111" stroke-width="1.2"/>
<rect x="300.3" y="814.3" width="10.2" height="10.4" fill="#00a00c" stroke="#333" stroke-width="0.9"/>
<text x="316.5" y="825" font-family="Liberation Sans, sans-serif" font-size="15" fill="#1e1e1e" textLength="74.5" lengthAdjust="spacing">Chips Won</text>
<rect x="425.4" y="814.3" width="10.2" height="10.4" fill="#a0a000" stroke="#333" stroke-width="0.9"/>
<text x="443" y="825" font-family="Liberation Sans, sans-serif" font-size="15" fill="#1e1e1e" textLength="168" lengthAdjust="spacing">Net Expected Chips Won</text>
<rect x="1235" y="0" width="1.2" height="844" fill="#e3e3e3"/><rect x="1236.2" y="0" width="2" height="844" fill="#f6f6f6"/>
</svg>
</body></html>
